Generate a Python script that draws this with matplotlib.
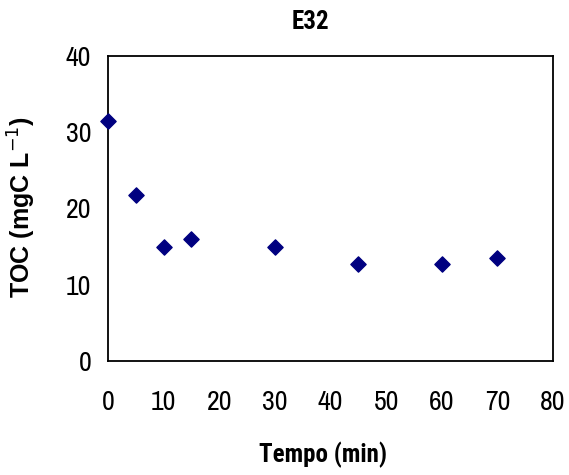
import matplotlib
matplotlib.use("Agg")
import matplotlib.pyplot as plt
from matplotlib import font_manager

# TOC decay over time for sample E32
tempo_min = [0, 5, 10, 15, 30, 45, 60, 70]
toc_mgC_L = [31.5, 21.8, 15.0, 16.0, 15.0, 12.7, 12.7, 13.5]

x_ticks = [0, 10, 20, 30, 40, 50, 60, 70, 80]
y_ticks = [0, 10, 20, 30, 40]

candidates = ["Arial Narrow", "Liberation Sans Narrow", "Archivo Narrow",
              "Roboto Condensed", "PT Sans Narrow", "Open Sans Condensed"]
fonts = font_manager.fontManager.ttflist


def pick(min_weight):
    for fam in candidates:
        for f in fonts:
            if f.name == fam and int(f.weight) >= min_weight:
                return dict(family=fam)
    return dict(family="DejaVu Sans", fontstretch="condensed")


narrow = pick(0)
narrow_bold = pick(700)

fig = plt.figure(figsize=(5.69, 4.75), dpi=100)
ax = fig.add_axes([108 / 569, 1 - 361 / 475, (553 - 108) / 569, (361 - 56) / 475])

ax.scatter(tempo_min, toc_mgC_L, marker="D", s=60, color="#000080", zorder=3,
           clip_on=False)

ax.set_xlim(0, 80)
ax.set_ylim(0, 40)
ax.set_xticks(x_ticks)
ax.set_yticks(y_ticks)
ax.tick_params(length=0)
ax.set_xticklabels([str(v) for v in x_ticks], fontsize=20, **narrow)
ax.set_yticklabels([str(v) for v in y_ticks], fontsize=20, **narrow)
ax.tick_params(axis="x", pad=21)
ax.tick_params(axis="y", pad=12)
for sp in ax.spines.values():
    sp.set_linewidth(1.3)
    sp.set_color("black")

fig.text(310 / 569, 1 - 22 / 475, "E32", fontsize=18, fontweight="bold",
         ha="center", va="center", **narrow_bold)
fig.text(323 / 569, 1 - 455 / 475, "Tempo (min)", fontsize=18, fontweight="bold",
         ha="center", va="center", **narrow_bold)
fig.text(22 / 569, 1 - 207 / 475, "TOC (mgC L$^{-1}$)", fontsize=18,
         fontweight="bold", family="Liberation Sans", rotation=90,
         ha="center", va="center")

fig.savefig("out.png", dpi=100)
